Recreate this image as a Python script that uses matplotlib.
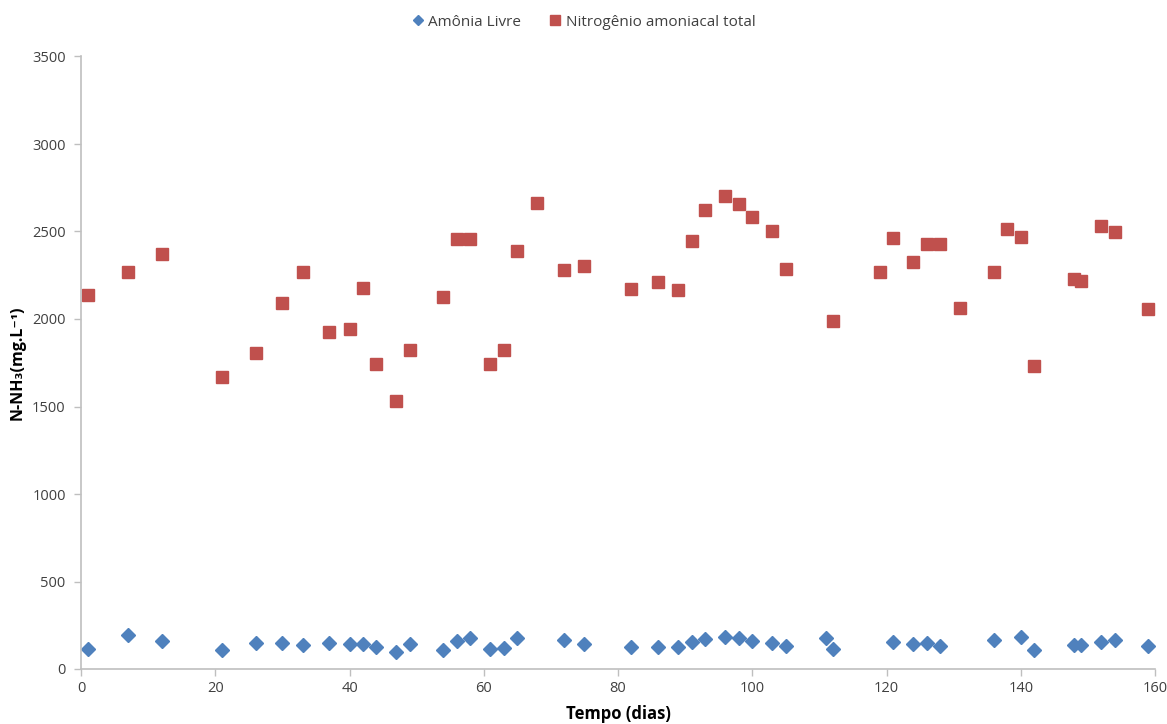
import matplotlib
matplotlib.use("Agg")
import matplotlib.pyplot as plt
from matplotlib.ticker import MultipleLocator

plt.rcParams['font.family'] = ['Open Sans', 'DejaVu Sans']

# Amônia Livre
fa_days = [1, 7, 12, 21, 26, 30, 33, 37, 40, 42, 44, 47, 49, 54, 56, 58, 61, 63, 65,
           72, 75, 82, 86, 89, 91, 93, 96, 98, 100, 103, 105, 111, 112, 121, 124, 126,
           128, 136, 140, 142, 148, 149, 152, 154, 159]
fa_vals = [114, 196, 158, 109, 147, 149, 135, 150, 145, 145, 126, 99, 141, 109, 162, 175,
           114, 122, 175, 164, 145, 126, 126, 126, 152, 170, 181, 179, 158, 149, 130, 179,
           116, 156, 145, 149, 133, 166, 185, 109, 139, 139, 152, 166, 130]

# Nitrogênio amoniacal total
nat_days = [1, 7, 12, 21, 26, 30, 33, 37, 40, 42, 44, 47, 49, 54, 56, 58, 61, 63, 65, 68,
            72, 75, 82, 86, 89, 91, 93, 96, 98, 100, 103, 105, 112, 119, 121, 124, 126,
            128, 131, 136, 138, 140, 142, 148, 149, 152, 154, 159]
nat_vals = [2137, 2270, 2371, 1670, 1808, 2093, 2267, 1924, 1943, 2175, 1743, 1531, 1821,
            2124, 2457, 2457, 1743, 1821, 2389, 2661, 2279, 2301, 2171, 2210, 2164, 2448,
            2621, 2703, 2655, 2581, 2505, 2284, 1989, 2267, 2461, 2328, 2430, 2427, 2063,
            2267, 2512, 2469, 1730, 2227, 2219, 2530, 2499, 2059]

W, H = 1167, 724
fig = plt.figure(figsize=(W / 100, H / 100), dpi=100)
ax = fig.add_axes([81 / W, 1 - 669 / H, (1155 - 81) / W, (669 - 56.5) / H])

blue = '#4F81BD'
red = '#C0504D'
ax.plot(fa_days, fa_vals, linestyle='none', marker='D', ms=6.8, color=blue,
        mec=blue, label='Amônia Livre', clip_on=False)
ax.plot(nat_days, nat_vals, linestyle='none', marker='s', ms=9, color=red,
        mec=red, label='Nitrogênio amoniacal total', clip_on=False)

ax.set_xlim(0, 160)
ax.set_ylim(0, 3500)
ax.xaxis.set_major_locator(MultipleLocator(20))
ax.yaxis.set_major_locator(MultipleLocator(500))

for s in ['top', 'right']:
    ax.spines[s].set_visible(False)
for s in ['left', 'bottom']:
    ax.spines[s].set_color('#BFBFBF')
    ax.spines[s].set_linewidth(1.2)
ax.tick_params(axis='both', colors='#BFBFBF', labelcolor='#404040', labelsize=10.5,
               length=5, width=1, direction='out')
ax.tick_params(axis='y', pad=6)
ax.tick_params(axis='x', pad=4)

ax.set_xlabel('Tempo (dias)', fontsize=12, fontweight='bold', labelpad=6)
ax.set_ylabel('N-NH\u2083(mg.L\u207b\u00b9)', fontsize=11.5, fontweight='bold')
ax.yaxis.set_label_coords((26 - 81) / 1074, 0.5)

leg = fig.legend(loc='center', bbox_to_anchor=(0.5, 1 - 22 / H), ncol=2, frameon=False,
                 fontsize=11, handlelength=0.8, handletextpad=0.3, columnspacing=1.8,
                 markerscale=0.75)
for t in leg.get_texts():
    t.set_color('#404040')

fig.savefig('out.png', dpi=100)
